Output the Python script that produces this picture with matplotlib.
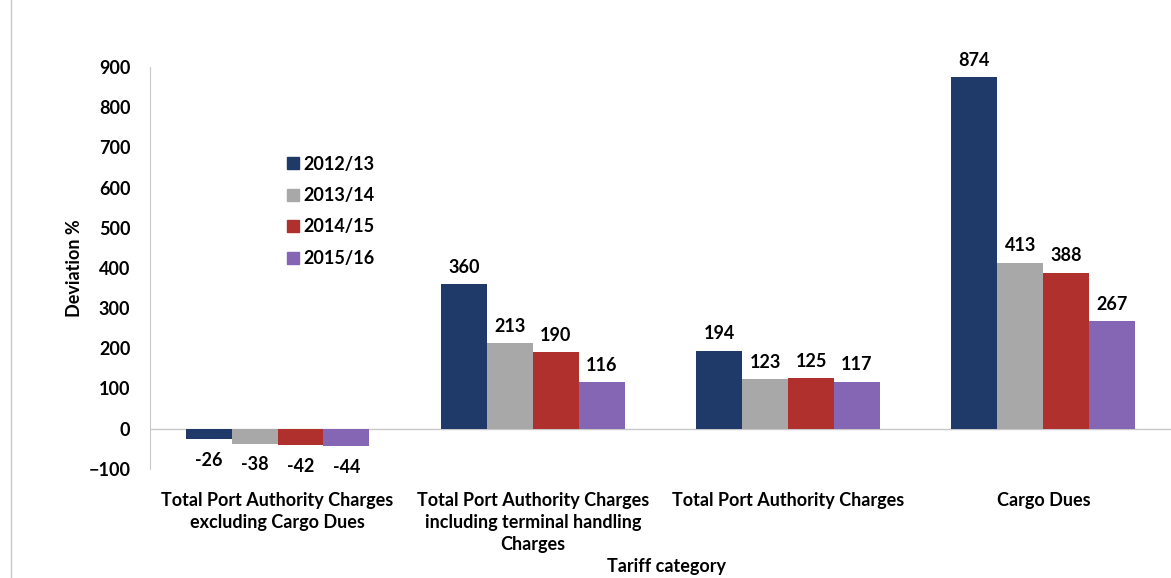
import numpy as np
import matplotlib
matplotlib.use("Agg")
import matplotlib.pyplot as plt
from matplotlib.lines import Line2D

plt.rcParams["font.family"] = ["Lato", "DejaVu Sans"]

categories = [
    "Total Port Authority Charges\nexcluding Cargo Dues",
    "Total Port Authority Charges\nincluding terminal handling\nCharges",
    "Total Port Authority Charges",
    "Cargo Dues",
]
years = ["2012/13", "2013/14", "2014/15", "2015/16"]
values = {
    "2012/13": [-26, 360, 194, 874],
    "2013/14": [-38, 213, 123, 413],
    "2014/15": [-42, 190, 125, 388],
    "2015/16": [-44, 116, 117, 267],
}
colors = ["#1f3a68", "#a8a8a8", "#b0302e", "#8466b4"]

fig = plt.figure(figsize=(11.71, 5.78), dpi=100)
ax = fig.add_axes([0.128, 0.189, 0.872, 0.695])

x = np.arange(len(categories))
width = 0.18
for i, yr in enumerate(years):
    pos = x + (i - 1.5) * width
    bars = ax.bar(pos, values[yr], width, color=colors[i], label=yr)
    for b, v in zip(bars, values[yr]):
        if v >= 0:
            ax.annotate(str(v), (b.get_x() + b.get_width() / 2, v),
                        xytext=(0, 6), textcoords="offset points",
                        ha="center", va="bottom", fontsize=13, fontweight="bold")
        else:
            ax.annotate(str(v), (b.get_x() + b.get_width() / 2, v),
                        xytext=(0, -9), textcoords="offset points",
                        ha="center", va="top", fontsize=13, fontweight="bold")

ax.set_xlim(-0.5, 3.5)
ax.set_ylim(-100, 900)
ax.set_yticks(range(-100, 901, 100))
ax.axhline(0, color="#c8c8c8", lw=1, zorder=0)

for s in ["top", "right", "bottom"]:
    ax.spines[s].set_visible(False)
ax.spines["left"].set_color("#c8c8c8")

ax.set_xticks(x)
ax.set_xticklabels(categories, fontsize=13, fontweight="bold", va="top",
                   linespacing=1.35)
ax.tick_params(axis="x", length=0, pad=17)
ax.tick_params(axis="y", length=0, pad=14, labelsize=13)
for t in ax.get_yticklabels():
    t.set_fontweight("bold")

ax.set_ylabel("Deviation %", fontsize=13, fontweight="bold", labelpad=4)
fig.text(0.569, 0.005, "Tariff category", ha="center", va="bottom",
         fontsize=13, fontweight="bold")

handles = [Line2D([], [], marker="s", ls="", color=c, markersize=8) for c in colors]
ax.legend(handles, years, loc="upper left", bbox_to_anchor=(0.115, 0.82),
          frameon=False, prop={"weight": "bold", "size": 13},
          handletextpad=0.1, labelspacing=0.8, handlelength=1)

fig.add_artist(Line2D([0.009, 0.009], [0, 1], color="#c8c8c8", lw=1))

fig.savefig("out.png", dpi=100)
